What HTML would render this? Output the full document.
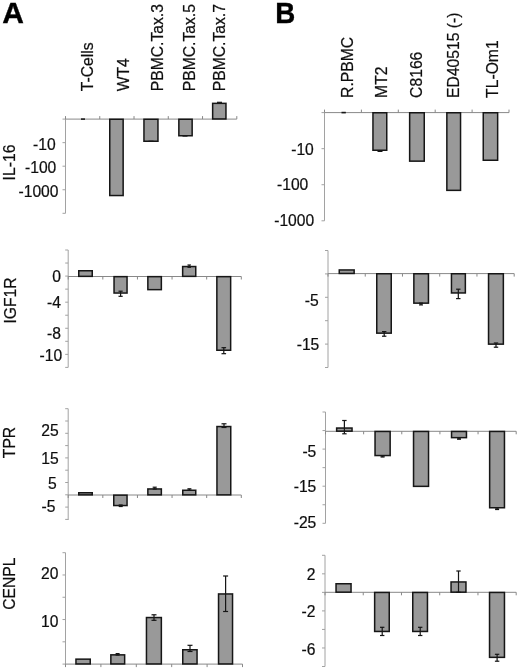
<!DOCTYPE html>
<html><head><meta charset="utf-8"><title>Figure</title>
<style>
html,body{margin:0;padding:0;background:#fff;}
svg{display:block;font-family:"Liberation Sans",Arial,sans-serif;fill:#111;}
text{stroke:#111;stroke-width:0.22px;}
</style></head>
<body>
<svg width="520" height="669" viewBox="0 0 520 669">
<defs><filter id="soft" x="0" y="0" width="520" height="669" filterUnits="userSpaceOnUse"><feGaussianBlur stdDeviation="0.35"/></filter></defs>
<rect x="0" y="0" width="520" height="669" fill="#ffffff" stroke="none"/>
<g filter="url(#soft)">
<text transform="translate(2.3,23.2) scale(1.0,1.0)" font-size="30" font-weight="bold" fill="#000" style="stroke:#000;stroke-width:0.35px">A</text>
<text transform="translate(275.2,23.05) scale(0.925,1.0)" font-size="30" font-weight="bold" fill="#000" style="stroke:#000;stroke-width:0.35px">B</text>
<text transform="translate(92.50,91.30) rotate(-90)" font-size="15.7">T-Cells</text>
<text transform="translate(128.50,91.30) rotate(-90)" font-size="15.7">WT4</text>
<text transform="translate(163.10,91.30) rotate(-90)" font-size="15.7">PBMC.Tax.3</text>
<text transform="translate(194.90,91.30) rotate(-90)" font-size="15.7">PBMC.Tax.5</text>
<text transform="translate(224.80,91.30) rotate(-90)" font-size="15.7">PBMC.Tax.7</text>
<text transform="translate(353.20,97.90) rotate(-90)" font-size="15.7">R.PBMC</text>
<text transform="translate(387.00,97.90) rotate(-90)" font-size="15.7">MT2</text>
<text transform="translate(422.00,97.90) rotate(-90)" font-size="15.7">C8166</text>
<text transform="translate(459.00,97.90) rotate(-90)" font-size="15.7">ED40515 (-)</text>
<text transform="translate(497.70,97.90) rotate(-90)" font-size="15.7">TL-Om1</text>
<text transform="translate(15.40,180.40) rotate(-90)" font-size="15.7">IL-16</text>
<text transform="translate(15.50,323.60) rotate(-90)" font-size="15.7">IGF1R</text>
<text transform="translate(15.10,458.20) rotate(-90)" font-size="15.7">TPR</text>
<text transform="translate(15.20,609.80) rotate(-90)" font-size="15.7">CENPL</text>
<line x1="65.50" y1="119.10" x2="65.50" y2="213.30" stroke="#a2a2a2" stroke-width="1"/>
<line x1="62.50" y1="119.10" x2="65.50" y2="119.10" stroke="#a2a2a2" stroke-width="1"/>
<line x1="62.50" y1="142.65" x2="65.50" y2="142.65" stroke="#a2a2a2" stroke-width="1"/>
<line x1="62.50" y1="166.20" x2="65.50" y2="166.20" stroke="#a2a2a2" stroke-width="1"/>
<line x1="62.50" y1="189.75" x2="65.50" y2="189.75" stroke="#a2a2a2" stroke-width="1"/>
<line x1="62.50" y1="213.30" x2="65.50" y2="213.30" stroke="#a2a2a2" stroke-width="1"/>
<line x1="65.50" y1="119.10" x2="236.80" y2="119.10" stroke="#888888" stroke-width="1"/>
<line x1="65.50" y1="119.10" x2="65.50" y2="116.10" stroke="#888888" stroke-width="1"/>
<line x1="99.76" y1="119.10" x2="99.76" y2="116.10" stroke="#888888" stroke-width="1"/>
<line x1="134.02" y1="119.10" x2="134.02" y2="116.10" stroke="#888888" stroke-width="1"/>
<line x1="168.28" y1="119.10" x2="168.28" y2="116.10" stroke="#888888" stroke-width="1"/>
<line x1="202.54" y1="119.10" x2="202.54" y2="116.10" stroke="#888888" stroke-width="1"/>
<line x1="236.80" y1="119.10" x2="236.80" y2="116.10" stroke="#888888" stroke-width="1"/>
<text x="55.60" y="149.70" text-anchor="end" font-size="15.65" font-weight="normal">-10</text>
<text x="56.30" y="172.80" text-anchor="end" font-size="15.65" font-weight="normal">-100</text>
<text x="58.50" y="197.20" text-anchor="end" font-size="15.65" font-weight="normal">-1000</text>
<rect x="109.75" y="119.25" width="13.40" height="76.30" fill="#999999" stroke="#141414" stroke-width="1.5"/>
<rect x="143.95" y="119.25" width="14.00" height="22.00" fill="#999999" stroke="#141414" stroke-width="1.5"/>
<rect x="178.85" y="119.25" width="13.30" height="16.50" fill="#999999" stroke="#141414" stroke-width="1.5"/>
<rect x="212.65" y="103.35" width="13.30" height="15.60" fill="#999999" stroke="#141414" stroke-width="1.5"/>
<line x1="81.00" y1="119.10" x2="85.00" y2="119.10" stroke="#141414" stroke-width="1.5"/>
<line x1="217.00" y1="102.30" x2="222.00" y2="102.30" stroke="#141414" stroke-width="1.2"/>
<line x1="148.50" y1="141.20" x2="153.50" y2="141.20" stroke="#141414" stroke-width="1.2"/>
<line x1="182.50" y1="136.00" x2="187.50" y2="136.00" stroke="#141414" stroke-width="1.2"/>
<line x1="68.20" y1="250.00" x2="68.20" y2="367.40" stroke="#a2a2a2" stroke-width="1"/>
<line x1="65.20" y1="250.00" x2="68.20" y2="250.00" stroke="#a2a2a2" stroke-width="1"/>
<line x1="65.20" y1="263.04" x2="68.20" y2="263.04" stroke="#a2a2a2" stroke-width="1"/>
<line x1="65.20" y1="276.09" x2="68.20" y2="276.09" stroke="#a2a2a2" stroke-width="1"/>
<line x1="65.20" y1="289.13" x2="68.20" y2="289.13" stroke="#a2a2a2" stroke-width="1"/>
<line x1="65.20" y1="302.18" x2="68.20" y2="302.18" stroke="#a2a2a2" stroke-width="1"/>
<line x1="65.20" y1="315.22" x2="68.20" y2="315.22" stroke="#a2a2a2" stroke-width="1"/>
<line x1="65.20" y1="328.27" x2="68.20" y2="328.27" stroke="#a2a2a2" stroke-width="1"/>
<line x1="65.20" y1="341.31" x2="68.20" y2="341.31" stroke="#a2a2a2" stroke-width="1"/>
<line x1="65.20" y1="354.36" x2="68.20" y2="354.36" stroke="#a2a2a2" stroke-width="1"/>
<line x1="65.20" y1="367.40" x2="68.20" y2="367.40" stroke="#a2a2a2" stroke-width="1"/>
<line x1="68.20" y1="276.50" x2="241.30" y2="276.50" stroke="#888888" stroke-width="1"/>
<line x1="68.20" y1="276.50" x2="68.20" y2="279.50" stroke="#888888" stroke-width="1"/>
<line x1="102.82" y1="276.50" x2="102.82" y2="279.50" stroke="#888888" stroke-width="1"/>
<line x1="137.44" y1="276.50" x2="137.44" y2="279.50" stroke="#888888" stroke-width="1"/>
<line x1="172.06" y1="276.50" x2="172.06" y2="279.50" stroke="#888888" stroke-width="1"/>
<line x1="206.68" y1="276.50" x2="206.68" y2="279.50" stroke="#888888" stroke-width="1"/>
<line x1="241.30" y1="276.50" x2="241.30" y2="279.50" stroke="#888888" stroke-width="1"/>
<text x="61.00" y="281.90" text-anchor="end" font-size="15.65" font-weight="normal">0</text>
<text x="61.00" y="307.80" text-anchor="end" font-size="15.65" font-weight="normal">-4</text>
<text x="61.00" y="338.90" text-anchor="end" font-size="15.65" font-weight="normal">-8</text>
<text x="62.20" y="361.10" text-anchor="end" font-size="15.65" font-weight="normal">-10</text>
<rect x="78.75" y="270.75" width="13.50" height="5.60" fill="#999999" stroke="#141414" stroke-width="1.5"/>
<rect x="114.05" y="276.65" width="13.00" height="16.40" fill="#999999" stroke="#141414" stroke-width="1.5"/>
<rect x="147.85" y="276.65" width="13.50" height="13.00" fill="#999999" stroke="#141414" stroke-width="1.5"/>
<rect x="182.65" y="266.55" width="13.10" height="9.80" fill="#999999" stroke="#141414" stroke-width="1.5"/>
<rect x="216.85" y="276.65" width="13.80" height="73.60" fill="#999999" stroke="#141414" stroke-width="1.5"/>
<line x1="120.60" y1="291.20" x2="120.60" y2="296.30" stroke="#141414" stroke-width="1.2"/>
<line x1="118.50" y1="291.20" x2="122.70" y2="291.20" stroke="#141414" stroke-width="1.2"/>
<line x1="118.50" y1="296.30" x2="122.70" y2="296.30" stroke="#141414" stroke-width="1.2"/>
<line x1="189.20" y1="265.00" x2="189.20" y2="267.30" stroke="#141414" stroke-width="1.2"/>
<line x1="187.45" y1="265.00" x2="190.95" y2="265.00" stroke="#141414" stroke-width="1.2"/>
<line x1="187.45" y1="267.30" x2="190.95" y2="267.30" stroke="#141414" stroke-width="1.2"/>
<line x1="223.80" y1="347.70" x2="223.80" y2="353.70" stroke="#141414" stroke-width="1.2"/>
<line x1="221.50" y1="347.70" x2="226.10" y2="347.70" stroke="#141414" stroke-width="1.2"/>
<line x1="221.50" y1="353.70" x2="226.10" y2="353.70" stroke="#141414" stroke-width="1.2"/>
<line x1="68.20" y1="408.70" x2="68.20" y2="520.00" stroke="#a2a2a2" stroke-width="1"/>
<line x1="65.20" y1="408.70" x2="68.20" y2="408.70" stroke="#a2a2a2" stroke-width="1"/>
<line x1="65.20" y1="421.00" x2="68.20" y2="421.00" stroke="#a2a2a2" stroke-width="1"/>
<line x1="65.20" y1="433.30" x2="68.20" y2="433.30" stroke="#a2a2a2" stroke-width="1"/>
<line x1="65.20" y1="445.60" x2="68.20" y2="445.60" stroke="#a2a2a2" stroke-width="1"/>
<line x1="65.20" y1="457.90" x2="68.20" y2="457.90" stroke="#a2a2a2" stroke-width="1"/>
<line x1="65.20" y1="470.20" x2="68.20" y2="470.20" stroke="#a2a2a2" stroke-width="1"/>
<line x1="65.20" y1="482.50" x2="68.20" y2="482.50" stroke="#a2a2a2" stroke-width="1"/>
<line x1="65.20" y1="494.80" x2="68.20" y2="494.80" stroke="#a2a2a2" stroke-width="1"/>
<line x1="65.20" y1="507.10" x2="68.20" y2="507.10" stroke="#a2a2a2" stroke-width="1"/>
<line x1="65.20" y1="519.40" x2="68.20" y2="519.40" stroke="#a2a2a2" stroke-width="1"/>
<line x1="68.20" y1="495.00" x2="241.30" y2="495.00" stroke="#888888" stroke-width="1"/>
<line x1="68.20" y1="495.00" x2="68.20" y2="498.00" stroke="#888888" stroke-width="1"/>
<line x1="102.82" y1="495.00" x2="102.82" y2="498.00" stroke="#888888" stroke-width="1"/>
<line x1="137.44" y1="495.00" x2="137.44" y2="498.00" stroke="#888888" stroke-width="1"/>
<line x1="172.06" y1="495.00" x2="172.06" y2="498.00" stroke="#888888" stroke-width="1"/>
<line x1="206.68" y1="495.00" x2="206.68" y2="498.00" stroke="#888888" stroke-width="1"/>
<line x1="241.30" y1="495.00" x2="241.30" y2="498.00" stroke="#888888" stroke-width="1"/>
<text x="58.60" y="436.20" text-anchor="end" font-size="15.65" font-weight="normal">25</text>
<text x="58.60" y="463.70" text-anchor="end" font-size="15.65" font-weight="normal">15</text>
<text x="56.70" y="488.60" text-anchor="end" font-size="15.65" font-weight="normal">5</text>
<text x="55.40" y="512.30" text-anchor="end" font-size="15.65" font-weight="normal">-5</text>
<rect x="78.75" y="492.75" width="13.50" height="2.10" fill="#999999" stroke="#141414" stroke-width="1.5"/>
<rect x="113.75" y="495.15" width="13.30" height="10.40" fill="#999999" stroke="#141414" stroke-width="1.5"/>
<rect x="147.85" y="488.95" width="13.50" height="5.90" fill="#999999" stroke="#141414" stroke-width="1.5"/>
<rect x="182.75" y="490.25" width="13.00" height="4.60" fill="#999999" stroke="#141414" stroke-width="1.5"/>
<rect x="216.95" y="426.55" width="13.80" height="68.30" fill="#999999" stroke="#141414" stroke-width="1.5"/>
<line x1="120.70" y1="505.00" x2="120.70" y2="506.50" stroke="#141414" stroke-width="1.2"/>
<line x1="118.70" y1="505.00" x2="122.70" y2="505.00" stroke="#141414" stroke-width="1.2"/>
<line x1="118.70" y1="506.50" x2="122.70" y2="506.50" stroke="#141414" stroke-width="1.2"/>
<line x1="154.70" y1="487.20" x2="154.70" y2="489.00" stroke="#141414" stroke-width="1.2"/>
<line x1="152.70" y1="487.20" x2="156.70" y2="487.20" stroke="#141414" stroke-width="1.2"/>
<line x1="152.70" y1="489.00" x2="156.70" y2="489.00" stroke="#141414" stroke-width="1.2"/>
<line x1="189.40" y1="488.80" x2="189.40" y2="490.20" stroke="#141414" stroke-width="1.2"/>
<line x1="187.40" y1="488.80" x2="191.40" y2="488.80" stroke="#141414" stroke-width="1.2"/>
<line x1="187.40" y1="490.20" x2="191.40" y2="490.20" stroke="#141414" stroke-width="1.2"/>
<line x1="224.00" y1="423.80" x2="224.00" y2="427.50" stroke="#141414" stroke-width="1.2"/>
<line x1="221.50" y1="423.80" x2="226.50" y2="423.80" stroke="#141414" stroke-width="1.2"/>
<line x1="221.50" y1="427.50" x2="226.50" y2="427.50" stroke="#141414" stroke-width="1.2"/>
<line x1="65.50" y1="552.70" x2="65.50" y2="664.10" stroke="#a2a2a2" stroke-width="1"/>
<line x1="62.50" y1="552.70" x2="65.50" y2="552.70" stroke="#a2a2a2" stroke-width="1"/>
<line x1="62.50" y1="574.98" x2="65.50" y2="574.98" stroke="#a2a2a2" stroke-width="1"/>
<line x1="62.50" y1="597.26" x2="65.50" y2="597.26" stroke="#a2a2a2" stroke-width="1"/>
<line x1="62.50" y1="619.54" x2="65.50" y2="619.54" stroke="#a2a2a2" stroke-width="1"/>
<line x1="62.50" y1="641.82" x2="65.50" y2="641.82" stroke="#a2a2a2" stroke-width="1"/>
<line x1="62.50" y1="664.10" x2="65.50" y2="664.10" stroke="#a2a2a2" stroke-width="1"/>
<line x1="65.50" y1="664.10" x2="242.50" y2="664.10" stroke="#888888" stroke-width="1"/>
<line x1="65.50" y1="664.10" x2="65.50" y2="667.10" stroke="#888888" stroke-width="1"/>
<line x1="100.90" y1="664.10" x2="100.90" y2="667.10" stroke="#888888" stroke-width="1"/>
<line x1="136.30" y1="664.10" x2="136.30" y2="667.10" stroke="#888888" stroke-width="1"/>
<line x1="171.70" y1="664.10" x2="171.70" y2="667.10" stroke="#888888" stroke-width="1"/>
<line x1="207.10" y1="664.10" x2="207.10" y2="667.10" stroke="#888888" stroke-width="1"/>
<line x1="242.50" y1="664.10" x2="242.50" y2="667.10" stroke="#888888" stroke-width="1"/>
<text x="58.50" y="579.10" text-anchor="end" font-size="15.65" font-weight="normal">20</text>
<text x="58.50" y="627.40" text-anchor="end" font-size="15.65" font-weight="normal">10</text>
<rect x="75.95" y="659.15" width="14.30" height="4.80" fill="#999999" stroke="#141414" stroke-width="1.5"/>
<rect x="110.85" y="654.85" width="13.80" height="9.10" fill="#999999" stroke="#141414" stroke-width="1.5"/>
<rect x="146.45" y="617.55" width="14.90" height="46.40" fill="#999999" stroke="#141414" stroke-width="1.5"/>
<rect x="182.75" y="649.75" width="14.30" height="14.20" fill="#999999" stroke="#141414" stroke-width="1.5"/>
<rect x="218.55" y="593.95" width="14.00" height="70.00" fill="#999999" stroke="#141414" stroke-width="1.5"/>
<line x1="117.60" y1="653.60" x2="117.60" y2="655.00" stroke="#141414" stroke-width="1.2"/>
<line x1="115.60" y1="653.60" x2="119.60" y2="653.60" stroke="#141414" stroke-width="1.2"/>
<line x1="115.60" y1="655.00" x2="119.60" y2="655.00" stroke="#141414" stroke-width="1.2"/>
<line x1="154.00" y1="614.80" x2="154.00" y2="620.30" stroke="#141414" stroke-width="1.2"/>
<line x1="151.50" y1="614.80" x2="156.50" y2="614.80" stroke="#141414" stroke-width="1.2"/>
<line x1="151.50" y1="620.30" x2="156.50" y2="620.30" stroke="#141414" stroke-width="1.2"/>
<line x1="190.00" y1="645.30" x2="190.00" y2="651.50" stroke="#141414" stroke-width="1.2"/>
<line x1="187.50" y1="645.30" x2="192.50" y2="645.30" stroke="#141414" stroke-width="1.2"/>
<line x1="187.50" y1="651.50" x2="192.50" y2="651.50" stroke="#141414" stroke-width="1.2"/>
<line x1="225.60" y1="576.00" x2="225.60" y2="611.50" stroke="#141414" stroke-width="1.2"/>
<line x1="223.10" y1="576.00" x2="228.10" y2="576.00" stroke="#141414" stroke-width="1.2"/>
<line x1="223.10" y1="611.50" x2="228.10" y2="611.50" stroke="#141414" stroke-width="1.2"/>
<line x1="324.50" y1="112.60" x2="324.50" y2="220.80" stroke="#a2a2a2" stroke-width="1"/>
<line x1="321.50" y1="112.60" x2="324.50" y2="112.60" stroke="#a2a2a2" stroke-width="1"/>
<line x1="321.50" y1="148.67" x2="324.50" y2="148.67" stroke="#a2a2a2" stroke-width="1"/>
<line x1="321.50" y1="184.73" x2="324.50" y2="184.73" stroke="#a2a2a2" stroke-width="1"/>
<line x1="321.50" y1="220.80" x2="324.50" y2="220.80" stroke="#a2a2a2" stroke-width="1"/>
<line x1="324.50" y1="112.60" x2="509.00" y2="112.60" stroke="#888888" stroke-width="1"/>
<line x1="324.50" y1="112.60" x2="324.50" y2="109.60" stroke="#888888" stroke-width="1"/>
<line x1="361.40" y1="112.60" x2="361.40" y2="109.60" stroke="#888888" stroke-width="1"/>
<line x1="398.30" y1="112.60" x2="398.30" y2="109.60" stroke="#888888" stroke-width="1"/>
<line x1="435.20" y1="112.60" x2="435.20" y2="109.60" stroke="#888888" stroke-width="1"/>
<line x1="472.10" y1="112.60" x2="472.10" y2="109.60" stroke="#888888" stroke-width="1"/>
<line x1="509.00" y1="112.60" x2="509.00" y2="109.60" stroke="#888888" stroke-width="1"/>
<text x="313.80" y="154.60" text-anchor="end" font-size="15.65" font-weight="normal">-10</text>
<text x="308.30" y="190.20" text-anchor="end" font-size="15.65" font-weight="normal">-100</text>
<text x="314.20" y="226.20" text-anchor="end" font-size="15.65" font-weight="normal">-1000</text>
<rect x="372.95" y="112.75" width="13.80" height="37.50" fill="#999999" stroke="#141414" stroke-width="1.5"/>
<rect x="409.65" y="112.75" width="14.60" height="48.40" fill="#999999" stroke="#141414" stroke-width="1.5"/>
<rect x="446.85" y="112.75" width="13.70" height="77.60" fill="#999999" stroke="#141414" stroke-width="1.5"/>
<rect x="483.25" y="112.75" width="14.40" height="47.50" fill="#999999" stroke="#141414" stroke-width="1.5"/>
<line x1="341.50" y1="112.60" x2="345.80" y2="112.60" stroke="#141414" stroke-width="1.6"/>
<line x1="377.50" y1="151.20" x2="382.50" y2="151.20" stroke="#141414" stroke-width="1.6"/>
<line x1="328.00" y1="250.50" x2="328.00" y2="367.50" stroke="#a2a2a2" stroke-width="1"/>
<line x1="325.00" y1="250.50" x2="328.00" y2="250.50" stroke="#a2a2a2" stroke-width="1"/>
<line x1="325.00" y1="273.90" x2="328.00" y2="273.90" stroke="#a2a2a2" stroke-width="1"/>
<line x1="325.00" y1="297.30" x2="328.00" y2="297.30" stroke="#a2a2a2" stroke-width="1"/>
<line x1="325.00" y1="320.70" x2="328.00" y2="320.70" stroke="#a2a2a2" stroke-width="1"/>
<line x1="325.00" y1="344.10" x2="328.00" y2="344.10" stroke="#a2a2a2" stroke-width="1"/>
<line x1="325.00" y1="367.50" x2="328.00" y2="367.50" stroke="#a2a2a2" stroke-width="1"/>
<line x1="328.00" y1="273.60" x2="514.20" y2="273.60" stroke="#888888" stroke-width="1"/>
<line x1="328.00" y1="273.60" x2="328.00" y2="276.60" stroke="#888888" stroke-width="1"/>
<line x1="365.24" y1="273.60" x2="365.24" y2="276.60" stroke="#888888" stroke-width="1"/>
<line x1="402.48" y1="273.60" x2="402.48" y2="276.60" stroke="#888888" stroke-width="1"/>
<line x1="439.72" y1="273.60" x2="439.72" y2="276.60" stroke="#888888" stroke-width="1"/>
<line x1="476.96" y1="273.60" x2="476.96" y2="276.60" stroke="#888888" stroke-width="1"/>
<line x1="514.20" y1="273.60" x2="514.20" y2="276.60" stroke="#888888" stroke-width="1"/>
<text x="318.70" y="305.80" text-anchor="end" font-size="15.65" font-weight="normal">-5</text>
<text x="319.30" y="350.40" text-anchor="end" font-size="15.65" font-weight="normal">-15</text>
<rect x="339.25" y="269.95" width="14.90" height="3.50" fill="#999999" stroke="#141414" stroke-width="1.5"/>
<rect x="376.75" y="273.75" width="14.50" height="59.40" fill="#999999" stroke="#141414" stroke-width="1.5"/>
<rect x="413.85" y="273.75" width="14.60" height="29.40" fill="#999999" stroke="#141414" stroke-width="1.5"/>
<rect x="451.45" y="273.75" width="13.90" height="19.20" fill="#999999" stroke="#141414" stroke-width="1.5"/>
<rect x="488.55" y="273.75" width="14.80" height="70.40" fill="#999999" stroke="#141414" stroke-width="1.5"/>
<line x1="384.20" y1="331.60" x2="384.20" y2="336.20" stroke="#141414" stroke-width="1.2"/>
<line x1="382.00" y1="331.60" x2="386.40" y2="331.60" stroke="#141414" stroke-width="1.2"/>
<line x1="382.00" y1="336.20" x2="386.40" y2="336.20" stroke="#141414" stroke-width="1.2"/>
<line x1="421.00" y1="303.20" x2="421.00" y2="304.90" stroke="#141414" stroke-width="1.2"/>
<line x1="419.00" y1="303.20" x2="423.00" y2="303.20" stroke="#141414" stroke-width="1.2"/>
<line x1="419.00" y1="304.90" x2="423.00" y2="304.90" stroke="#141414" stroke-width="1.2"/>
<line x1="458.30" y1="289.20" x2="458.30" y2="298.60" stroke="#141414" stroke-width="1.2"/>
<line x1="456.10" y1="289.20" x2="460.50" y2="289.20" stroke="#141414" stroke-width="1.2"/>
<line x1="456.10" y1="298.60" x2="460.50" y2="298.60" stroke="#141414" stroke-width="1.2"/>
<line x1="496.00" y1="343.00" x2="496.00" y2="347.20" stroke="#141414" stroke-width="1.2"/>
<line x1="493.80" y1="343.00" x2="498.20" y2="343.00" stroke="#141414" stroke-width="1.2"/>
<line x1="493.80" y1="347.20" x2="498.20" y2="347.20" stroke="#141414" stroke-width="1.2"/>
<line x1="325.50" y1="412.00" x2="325.50" y2="523.30" stroke="#a2a2a2" stroke-width="1"/>
<line x1="322.50" y1="412.00" x2="325.50" y2="412.00" stroke="#a2a2a2" stroke-width="1"/>
<line x1="322.50" y1="430.55" x2="325.50" y2="430.55" stroke="#a2a2a2" stroke-width="1"/>
<line x1="322.50" y1="449.10" x2="325.50" y2="449.10" stroke="#a2a2a2" stroke-width="1"/>
<line x1="322.50" y1="467.65" x2="325.50" y2="467.65" stroke="#a2a2a2" stroke-width="1"/>
<line x1="322.50" y1="486.20" x2="325.50" y2="486.20" stroke="#a2a2a2" stroke-width="1"/>
<line x1="322.50" y1="504.75" x2="325.50" y2="504.75" stroke="#a2a2a2" stroke-width="1"/>
<line x1="322.50" y1="523.30" x2="325.50" y2="523.30" stroke="#a2a2a2" stroke-width="1"/>
<line x1="325.50" y1="431.30" x2="516.20" y2="431.30" stroke="#888888" stroke-width="1"/>
<line x1="325.50" y1="431.30" x2="325.50" y2="434.30" stroke="#888888" stroke-width="1"/>
<line x1="363.64" y1="431.30" x2="363.64" y2="434.30" stroke="#888888" stroke-width="1"/>
<line x1="401.78" y1="431.30" x2="401.78" y2="434.30" stroke="#888888" stroke-width="1"/>
<line x1="439.92" y1="431.30" x2="439.92" y2="434.30" stroke="#888888" stroke-width="1"/>
<line x1="478.06" y1="431.30" x2="478.06" y2="434.30" stroke="#888888" stroke-width="1"/>
<line x1="516.20" y1="431.30" x2="516.20" y2="434.30" stroke="#888888" stroke-width="1"/>
<text x="316.30" y="456.90" text-anchor="end" font-size="15.65" font-weight="normal">-5</text>
<text x="316.30" y="492.20" text-anchor="end" font-size="15.65" font-weight="normal">-15</text>
<text x="316.30" y="527.90" text-anchor="end" font-size="15.65" font-weight="normal">-25</text>
<rect x="336.65" y="428.05" width="15.40" height="3.10" fill="#999999" stroke="#141414" stroke-width="1.5"/>
<rect x="375.05" y="431.45" width="15.10" height="24.10" fill="#999999" stroke="#141414" stroke-width="1.5"/>
<rect x="413.55" y="431.45" width="15.00" height="54.90" fill="#999999" stroke="#141414" stroke-width="1.5"/>
<rect x="451.55" y="431.45" width="14.90" height="6.20" fill="#999999" stroke="#141414" stroke-width="1.5"/>
<rect x="489.65" y="431.45" width="14.80" height="76.30" fill="#999999" stroke="#141414" stroke-width="1.5"/>
<line x1="344.40" y1="420.50" x2="344.40" y2="433.80" stroke="#141414" stroke-width="1.2"/>
<line x1="342.20" y1="420.50" x2="346.60" y2="420.50" stroke="#141414" stroke-width="1.2"/>
<line x1="342.20" y1="433.80" x2="346.60" y2="433.80" stroke="#141414" stroke-width="1.2"/>
<line x1="382.60" y1="456.00" x2="382.60" y2="457.00" stroke="#141414" stroke-width="1.2"/>
<line x1="380.60" y1="456.00" x2="384.60" y2="456.00" stroke="#141414" stroke-width="1.2"/>
<line x1="380.60" y1="457.00" x2="384.60" y2="457.00" stroke="#141414" stroke-width="1.2"/>
<line x1="459.00" y1="438.00" x2="459.00" y2="439.20" stroke="#141414" stroke-width="1.2"/>
<line x1="457.00" y1="438.00" x2="461.00" y2="438.00" stroke="#141414" stroke-width="1.2"/>
<line x1="457.00" y1="439.20" x2="461.00" y2="439.20" stroke="#141414" stroke-width="1.2"/>
<line x1="497.10" y1="508.00" x2="497.10" y2="509.50" stroke="#141414" stroke-width="1.2"/>
<line x1="495.10" y1="508.00" x2="499.10" y2="508.00" stroke="#141414" stroke-width="1.2"/>
<line x1="495.10" y1="509.50" x2="499.10" y2="509.50" stroke="#141414" stroke-width="1.2"/>
<line x1="325.00" y1="555.30" x2="325.00" y2="666.50" stroke="#a2a2a2" stroke-width="1"/>
<line x1="322.00" y1="555.30" x2="325.00" y2="555.30" stroke="#a2a2a2" stroke-width="1"/>
<line x1="322.00" y1="573.83" x2="325.00" y2="573.83" stroke="#a2a2a2" stroke-width="1"/>
<line x1="322.00" y1="592.37" x2="325.00" y2="592.37" stroke="#a2a2a2" stroke-width="1"/>
<line x1="322.00" y1="610.90" x2="325.00" y2="610.90" stroke="#a2a2a2" stroke-width="1"/>
<line x1="322.00" y1="629.43" x2="325.00" y2="629.43" stroke="#a2a2a2" stroke-width="1"/>
<line x1="322.00" y1="647.97" x2="325.00" y2="647.97" stroke="#a2a2a2" stroke-width="1"/>
<line x1="322.00" y1="666.50" x2="325.00" y2="666.50" stroke="#a2a2a2" stroke-width="1"/>
<line x1="325.00" y1="592.30" x2="516.20" y2="592.30" stroke="#888888" stroke-width="1"/>
<line x1="325.00" y1="592.30" x2="325.00" y2="595.30" stroke="#888888" stroke-width="1"/>
<line x1="363.24" y1="592.30" x2="363.24" y2="595.30" stroke="#888888" stroke-width="1"/>
<line x1="401.48" y1="592.30" x2="401.48" y2="595.30" stroke="#888888" stroke-width="1"/>
<line x1="439.72" y1="592.30" x2="439.72" y2="595.30" stroke="#888888" stroke-width="1"/>
<line x1="477.96" y1="592.30" x2="477.96" y2="595.30" stroke="#888888" stroke-width="1"/>
<line x1="516.20" y1="592.30" x2="516.20" y2="595.30" stroke="#888888" stroke-width="1"/>
<text x="315.50" y="579.90" text-anchor="end" font-size="15.65" font-weight="normal">2</text>
<text x="315.50" y="616.80" text-anchor="end" font-size="15.65" font-weight="normal">-2</text>
<text x="315.50" y="655.10" text-anchor="end" font-size="15.65" font-weight="normal">-6</text>
<rect x="336.05" y="583.75" width="15.00" height="8.40" fill="#999999" stroke="#141414" stroke-width="1.5"/>
<rect x="374.65" y="592.45" width="14.60" height="39.00" fill="#999999" stroke="#141414" stroke-width="1.5"/>
<rect x="412.75" y="592.45" width="14.70" height="39.00" fill="#999999" stroke="#141414" stroke-width="1.5"/>
<rect x="451.05" y="581.95" width="14.90" height="10.20" fill="#999999" stroke="#141414" stroke-width="1.5"/>
<rect x="489.55" y="592.45" width="14.90" height="64.90" fill="#999999" stroke="#141414" stroke-width="1.5"/>
<line x1="382.20" y1="627.30" x2="382.20" y2="635.50" stroke="#141414" stroke-width="1.2"/>
<line x1="380.00" y1="627.30" x2="384.40" y2="627.30" stroke="#141414" stroke-width="1.2"/>
<line x1="380.00" y1="635.50" x2="384.40" y2="635.50" stroke="#141414" stroke-width="1.2"/>
<line x1="420.20" y1="627.30" x2="420.20" y2="635.50" stroke="#141414" stroke-width="1.2"/>
<line x1="418.00" y1="627.30" x2="422.40" y2="627.30" stroke="#141414" stroke-width="1.2"/>
<line x1="418.00" y1="635.50" x2="422.40" y2="635.50" stroke="#141414" stroke-width="1.2"/>
<line x1="458.50" y1="571.00" x2="458.50" y2="592.30" stroke="#141414" stroke-width="1.2"/>
<line x1="456.30" y1="571.00" x2="460.70" y2="571.00" stroke="#141414" stroke-width="1.2"/>
<line x1="456.30" y1="592.30" x2="460.70" y2="592.30" stroke="#141414" stroke-width="1.2"/>
<line x1="497.10" y1="654.30" x2="497.10" y2="661.20" stroke="#141414" stroke-width="1.2"/>
<line x1="494.90" y1="654.30" x2="499.30" y2="654.30" stroke="#141414" stroke-width="1.2"/>
<line x1="494.90" y1="661.20" x2="499.30" y2="661.20" stroke="#141414" stroke-width="1.2"/>
</g>
</svg>
</body></html>
